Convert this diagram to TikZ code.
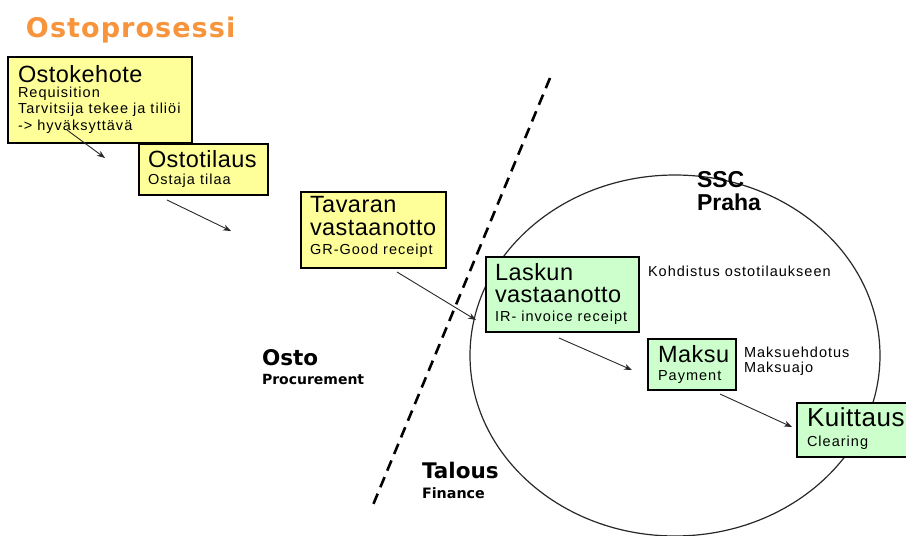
\documentclass[tikz,border=0pt]{standalone}
\usepackage{fontspec}
\setmainfont{Liberation Sans}
\newfontfamily\bigfam[LetterSpace=2]{Liberation Sans}
\newfontfamily\smfam[LetterSpace=7]{Liberation Sans}
\newfontfamily\dvfam{DejaVu Sans}
\newfontfamily\ttlfam[LetterSpace=4]{DejaVu Sans}
\usetikzlibrary{arrows.meta}
\definecolor{yfill}{RGB}{255,255,153}
\definecolor{gfill}{RGB}{204,255,204}
\definecolor{ttl}{RGB}{247,148,60}
\definecolor{lnc}{RGB}{40,40,40}
\newcommand\bigtxt{\bigfam\fontsize{23.5}{26}\selectfont}
\newcommand\smtxt{\smfam\fontsize{14.5}{17}\selectfont}
\begin{document}
\begin{tikzpicture}[x=1pt,y=-1pt,
  box/.style={draw=black, line width=1.5pt, anchor=north west, inner sep=0pt, outer sep=0pt},
  ybox/.style={box, fill=yfill},
  gbox/.style={box, fill=gfill},
  lbl/.style={anchor=base west, inner sep=0pt, outer sep=0pt, text depth=0pt},
  arr/.style={draw=lnc, line width=0.9pt, -{Stealth[length=8pt,width=6pt]}},
  sep/.style={draw=black, line width=2.6pt, dash pattern=on 11pt off 7pt}]
\fill[white] (0,0) rectangle (906,536);
\useasboundingbox (0,0) rectangle (906,536);
\clip (0,0) rectangle (906,536);

% SSC circle
\coordinate (ssc) at (675,355.5);
\draw[draw=lnc, line width=1.2pt] (ssc) ellipse [x radius=205, y radius=180.5];

% dashed separator
\coordinate (d1) at (550,78);
\coordinate (d2) at (373,505);
\draw[sep] (d1) -- (d2);

% title
\node[lbl] (title) at (26,37) {\ttlfam\bfseries\fontsize{27}{29}\selectfont\color{ttl}Ostoprosessi};

% boxes
\node[ybox, minimum width=184pt, minimum height=86pt] (req) at (8,57) {};
\node[lbl] (reqT) at (18,82) {\bigtxt Ostokehote};
\node[lbl] (reqS) at (18,97) {\smtxt Requisition};
\node[lbl] (reqU) at (18,113) {\smtxt Tarvitsija tekee ja tiliöi};
\node[lbl] (reqV) at (18,130) {\smtxt -> hyväksyttävä};

\node[ybox, minimum width=129pt, minimum height=51pt] (po) at (139,144) {};
\node[lbl] (poT) at (148,167) {\bigtxt Ostotilaus};
\node[lbl] (poS) at (148,184) {\smtxt Ostaja tilaa};

\node[ybox, minimum width=145pt, minimum height=76pt] (gr) at (301,192) {};
\node[lbl] (grT) at (310,212.5) {\bigtxt Tavaran};
\node[lbl] (grU) at (310,235) {\bigtxt vastaanotto};
\node[lbl] (grS) at (310,254) {\smtxt GR-Good receipt};

\node[gbox, minimum width=153pt, minimum height=75pt] (ir) at (486,257) {};
\node[lbl] (irT) at (495,280) {\bigtxt Laskun};
\node[lbl] (irU) at (495,302) {\bigtxt vastaanotto};
\node[lbl] (irS) at (495,321) {\smtxt IR- invoice receipt};

\node[gbox, minimum width=88pt, minimum height=51pt] (pay) at (648,339) {};
\node[lbl] (payT) at (658,362) {\bigtxt Maksu};
\node[lbl] (payS) at (658,380) {\smtxt Payment};

\node[gbox, minimum width=130pt, minimum height=54pt] (clr) at (797,403) {};
\node[lbl] (clrT) at (807,426) {\bigfam\fontsize{26}{28}\selectfont Kuittaus};
\node[lbl] (clrS) at (807,446) {\smtxt Clearing};

% side notes
\node[lbl] (kohd) at (648,276) {\smtxt Kohdistus ostotilaukseen};
\node[lbl] (mehd) at (744,357) {\smtxt Maksuehdotus};
\node[lbl] (majo) at (744,372) {\smtxt Maksuajo};

% area labels
\node[lbl] (sscA) at (697,187) {\bfseries\fontsize{23}{25}\selectfont SSC};
\node[lbl] (sscB) at (697,210) {\bfseries\fontsize{23}{25}\selectfont Praha};
\node[lbl] (osto) at (262,365) {\dvfam\bfseries\fontsize{21.5}{23}\selectfont Osto};
\node[lbl] (ostoS) at (262,384) {\dvfam\bfseries\fontsize{14}{16}\selectfont Procurement};
\node[lbl] (tal) at (422,478) {\dvfam\bfseries\fontsize{21.5}{23}\selectfont Talous};
\node[lbl] (talS) at (422,498) {\dvfam\bfseries\fontsize{14.3}{16}\selectfont Finance};

% arrows
\coordinate (a1s) at (67,130);  \coordinate (a1e) at (105,158);
\coordinate (a2s) at (167,200); \coordinate (a2e) at (231,231);
\coordinate (a3s) at (397,272); \coordinate (a3e) at (476,320);
\coordinate (a4s) at (559,338); \coordinate (a4e) at (632,370);
\coordinate (a5s) at (720,394); \coordinate (a5e) at (792,427);
\draw[arr] (a1s) -- (a1e);
\draw[arr] (a2s) -- (a2e);
\draw[arr] (a3s) -- (a3e);
\draw[arr] (a4s) -- (a4e);
\draw[arr] (a5s) -- (a5e);
\end{tikzpicture}
\end{document}
